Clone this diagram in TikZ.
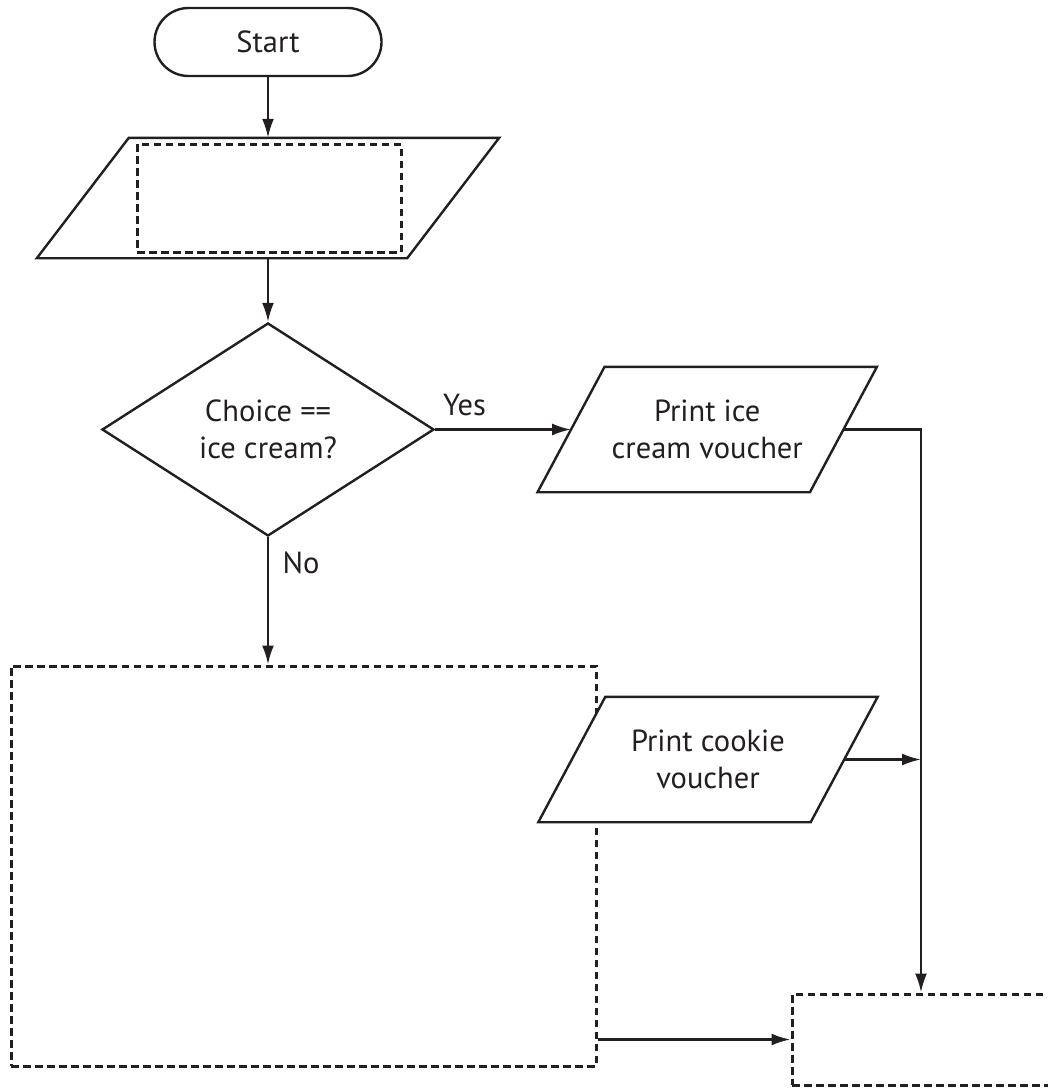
\documentclass[tikz,border=0pt]{standalone}
\usepackage{fontspec}
\setmainfont{PT Sans}
\usetikzlibrary{shapes.geometric,arrows.meta}
\definecolor{ink}{HTML}{231F20}
\begin{document}
\begin{tikzpicture}[x=1pt,y=-1pt,
  line/.style={draw=ink, line width=2.4pt},
  arr/.style={line, -{Latex[length=19pt,width=12pt]}},
  dashbox/.style={draw=ink, line width=3pt, dash pattern=on 7.5pt off 4.5pt, inner sep=0pt},
  txt/.style={font=\fontsize{30.5}{37}\selectfont, text=ink, align=center},
  holder/.style={inner sep=0pt},
  para/.style={line, fill=white, line join=miter}]
\useasboundingbox (0,0) rectangle (1048,1088);
\clip (0,0) rectangle (1048,1088);

% Start
\node[txt, line, rounded corners=34pt, minimum width=227pt, minimum height=68pt, inner sep=0pt] (start) at (268,42) {Start};

% Input parallelogram
\node[holder, minimum width=370pt, minimum height=120pt] (inp) at (268,198) {};
\draw[para] ([xshift=46pt]inp.north west) -- ([xshift=46pt]inp.north east) -- ([xshift=-46pt]inp.south east) -- ([xshift=-46pt]inp.south west) -- cycle;
\node[dashbox, minimum width=264pt, minimum height=108pt] (blank1) at (269,198) {};

% Decision
\node[diamond, line, txt, inner sep=0pt, minimum width=332pt, minimum height=213pt] (dec) at (268,429.5) {Choice ==\\ice cream?};

% Process box (dashed)
\node[dashbox, minimum width=585pt, minimum height=400pt] (proc) at (303.5,866) {};

% Print ice cream voucher
\node[holder, minimum width=272pt, minimum height=125pt] (icebox) at (707.25,429.5) {};
\draw[para] ([xshift=33.5pt]icebox.north west) -- ([xshift=33.5pt]icebox.north east) -- ([xshift=-33.5pt]icebox.south east) -- ([xshift=-33.5pt]icebox.south west) -- cycle;
\node[txt] (icetxt) at (icebox) {Print ice\\cream voucher};

% Print cookie voucher
\node[holder, minimum width=272pt, minimum height=125pt] (ckbox) at (708,759.5) {};
\draw[para] ([xshift=33.5pt]ckbox.north west) -- ([xshift=33.5pt]ckbox.north east) -- ([xshift=-33.5pt]ckbox.south east) -- ([xshift=-33.5pt]ckbox.south west) -- cycle;
\node[txt] (cktxt) at (ckbox) {Print cookie\\voucher};

% End box (dashed, cut off at right)
\node[dashbox, minimum width=320pt, minimum height=91pt] (endbox) at (952,1039.5) {};

% Connectors
\coordinate (j) at (921,429.5);
\draw[arr] (start.south) -- (inp.north);
\draw[arr] (inp.south) -- (dec.north);
\draw[arr] (dec.east) -- (icebox.west);
\draw[arr] (dec.south) -- (dec.south |- proc.north);
\draw[arr] (icebox.east) -- (j) -- (j |- endbox.north);
\draw[arr] (ckbox.east) -- (ckbox.east -| j);
\draw[arr] (proc.east |- endbox.west) -- (endbox.west);

% Labels
\node[txt, anchor=base] (yes) at (464.5,415) {Yes};
\node[txt, anchor=base west] (no) at (279,573) {No};
\end{tikzpicture}
\end{document}
